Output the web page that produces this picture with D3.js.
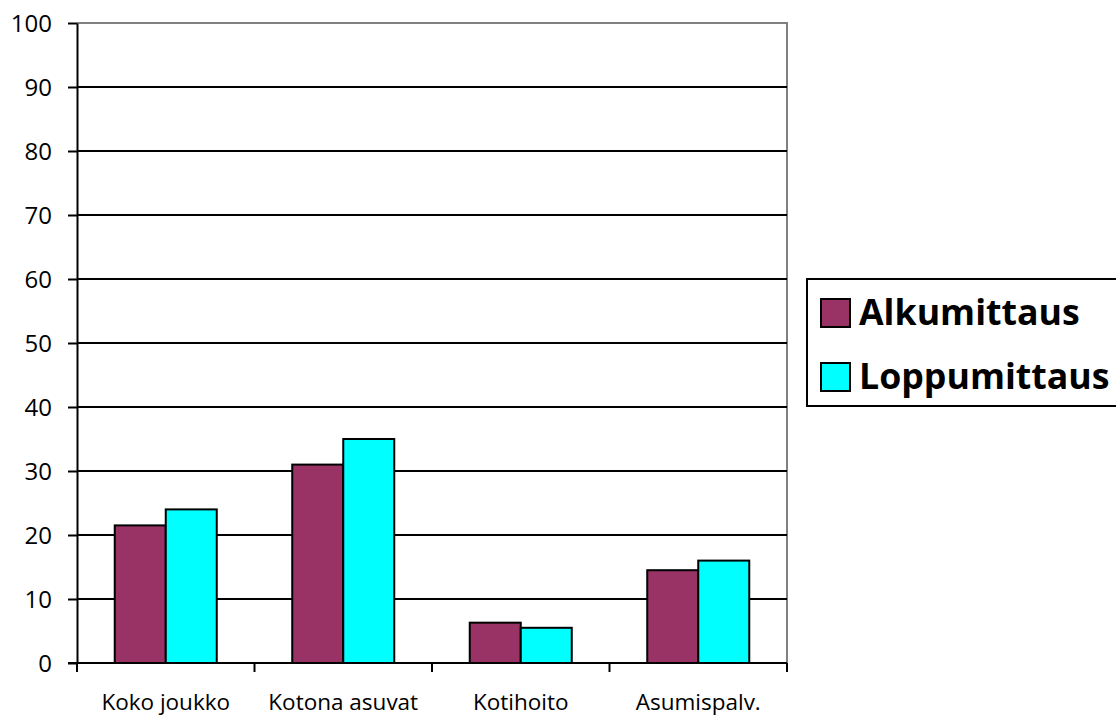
<!DOCTYPE html>
<html>
<head>
<meta charset="utf-8">
<script src="https://cdn.jsdelivr.net/npm/d3@7"></script>
<style>
  html, body { margin: 0; padding: 0; background: #fff; }
  svg { display: block; font-family: "Open Sans", "Noto Sans", sans-serif; }
</style>
</head>
<body>
<svg id="chart" width="1116" height="715"></svg>
<script>
// Categories and the two measurement series
const categories = ["Koko joukko", "Kotona asuvat", "Kotihoito", "Asumispalv."];
const seriesNames = ["Alkumittaus", "Loppumittaus"];
const alkumittaus = [21.5, 31, 6.3, 14.5];
const loppumittaus = [24, 35, 5.5, 16];
const yTicks = [0, 10, 20, 30, 40, 50, 60, 70, 80, 90, 100];
const colors = ["#993366", "#00FFFF"];

const svg = d3.select("#chart");
const plot = { left: 77, top: 23, right: 787, bottom: 663 };

const x = d3.scaleBand().domain(categories).range([plot.left, plot.right]).paddingInner(0).paddingOuter(0);
const xInner = d3.scaleBand().domain(seriesNames).range([0, x.bandwidth()]).paddingInner(0).paddingOuter(0.74);
const y = d3.scaleLinear().domain([0, 100]).range([plot.bottom, plot.top]);

// Plot frame (grey top and right edges)
svg.append("path")
  .attr("d", `M${plot.left},${plot.top}H${plot.right}V${plot.bottom}`)
  .attr("fill", "none").attr("stroke", "#808080").attr("stroke-width", 2);

// Horizontal gridlines
svg.append("g").selectAll("line")
  .data(yTicks.filter(d => d > 0 && d < 100))
  .join("line")
  .attr("x1", plot.left).attr("x2", plot.right)
  .attr("y1", d => y(d)).attr("y2", d => y(d))
  .attr("stroke", "#000").attr("stroke-width", 2);

// Bars
const data = categories.map((c, i) => ({ c, vals: [alkumittaus[i], loppumittaus[i]] }));
svg.append("g").selectAll("g")
  .data(data)
  .join("g")
  .attr("transform", d => `translate(${x(d.c)},0)`)
  .selectAll("rect")
  .data(d => d.vals.map((v, j) => ({ name: seriesNames[j], v, j })))
  .join("rect")
  .attr("x", d => xInner(d.name))
  .attr("width", xInner.bandwidth())
  .attr("y", d => y(d.v))
  .attr("height", d => y(0) - y(d.v))
  .attr("fill", d => colors[d.j])
  .attr("stroke", "#000").attr("stroke-width", 2);

// Y axis
const yAxis = svg.append("g")
  .attr("transform", `translate(${plot.left},0)`)
  .call(d3.axisLeft(y).tickValues(yTicks).tickSize(9).tickPadding(16).tickSizeOuter(0));
yAxis.attr("font-size", null).attr("font-family", null);
yAxis.select(".domain").attr("stroke", "#000").attr("stroke-width", 2);
yAxis.selectAll(".tick line").attr("stroke", "#000").attr("stroke-width", 2);
yAxis.selectAll(".tick text")
  .style("font-size", "24px").attr("fill", "#000").attr("dy", "0.36em");

// X axis with ticks at category boundaries
const xAxisG = svg.append("g").attr("transform", `translate(0,${plot.bottom})`);
xAxisG.append("line")
  .attr("x1", plot.left - 9).attr("x2", plot.right)
  .attr("stroke", "#000").attr("stroke-width", 2);
const bounds = categories.map(c => x(c)).concat([x(categories[categories.length - 1]) + x.bandwidth()]);
xAxisG.selectAll("line.tk").data(bounds).join("line").attr("class", "tk")
  .attr("x1", d => d).attr("x2", d => d).attr("y1", 0).attr("y2", 9)
  .attr("stroke", "#000").attr("stroke-width", 2);
xAxisG.selectAll("text").data(categories).join("text")
  .attr("x", d => x(d) + x.bandwidth() / 2)
  .attr("y", 47)
  .attr("text-anchor", "middle")
  .style("font-size", "22.5px")
  .attr("fill", "#000")
  .text(d => d);

// Legend
const legend = svg.append("g");
legend.append("rect")
  .attr("x", 807).attr("y", 279).attr("width", 320).attr("height", 127)
  .attr("fill", "#fff").attr("stroke", "#000").attr("stroke-width", 2);
const items = legend.selectAll("g.item").data(seriesNames).join("g").attr("class", "item")
  .attr("transform", (d, i) => `translate(821,${299 + i * 64})`);
items.append("rect")
  .attr("width", 29).attr("height", 28)
  .attr("fill", (d, i) => colors[i])
  .attr("stroke", "#000").attr("stroke-width", 2);
items.append("text")
  .attr("x", 38).attr("y", 26)
  .style("font-size", "35.7px").attr("font-weight", "bold")
  .attr("fill", "#000")
  .text(d => d);
</script>
</body>
</html>
